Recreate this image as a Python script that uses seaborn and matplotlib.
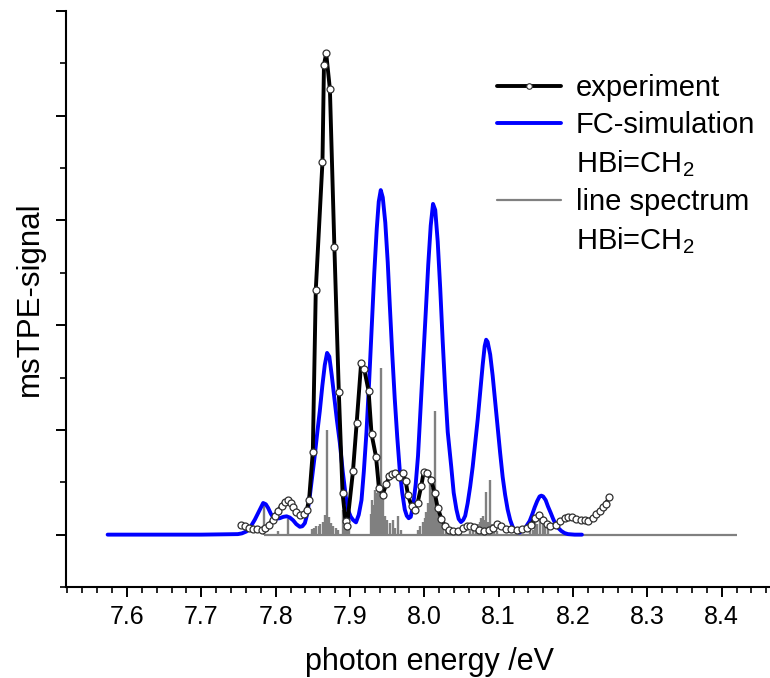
import numpy as np
import pandas as pd
import matplotlib
matplotlib.use("Agg")
import matplotlib.pyplot as plt
from matplotlib.lines import Line2D
from matplotlib.ticker import MultipleLocator, NullFormatter
import seaborn as sns

# ---------------- data ----------------
exp_energy = [7.754, 7.759, 7.764, 7.769, 7.775, 7.781, 7.786, 7.791, 7.796, 7.799,
              7.803, 7.808, 7.812, 7.816, 7.820, 7.824, 7.828, 7.833, 7.838, 7.842,
              7.845, 7.850, 7.854, 7.863, 7.865, 7.868, 7.873, 7.879, 7.885, 7.890,
              7.894, 7.896, 7.904, 7.909, 7.915, 7.919, 7.925, 7.929, 7.935, 7.939,
              7.944, 7.949, 7.953, 7.956, 7.961, 7.966, 7.971, 7.975, 7.978, 7.983,
              7.987, 7.991, 7.996, 7.999, 8.004, 8.009, 8.014, 8.018, 8.023, 8.028,
              8.033, 8.038, 8.045, 8.052, 8.057, 8.062, 8.067, 8.073, 8.080, 8.087,
              8.092, 8.098, 8.103, 8.110, 8.117, 8.124, 8.131, 8.138, 8.144, 8.149,
              8.154, 8.160, 8.165, 8.169, 8.177, 8.183, 8.189, 8.193, 8.198, 8.204,
              8.211, 8.216, 8.220, 8.227, 8.231, 8.236, 8.240, 8.244, 8.249]
exp_signal = [0.089, 0.079, 0.067, 0.057, 0.052, 0.048, 0.067, 0.095, 0.143, 0.181,
              0.229, 0.277, 0.315, 0.334, 0.305, 0.267, 0.219, 0.191, 0.200, 0.239,
              0.334, 0.792, 2.338, 3.562, 4.485, 4.596, 4.253, 2.751, 1.358, 0.398,
              0.127, 0.081, 0.604, 1.066, 1.638, 1.584, 1.374, 0.961, 0.745, 0.444,
              0.382, 0.487, 0.556, 0.582, 0.592, 0.553, 0.589, 0.509, 0.377, 0.270,
              0.234, 0.305, 0.468, 0.594, 0.587, 0.525, 0.398, 0.255, 0.153, 0.079,
              0.043, 0.038, 0.033, 0.062, 0.081, 0.081, 0.070, 0.048, 0.038, 0.048,
              0.064, 0.100, 0.081, 0.052, 0.052, 0.048, 0.057, 0.067, 0.095, 0.159,
              0.186, 0.143, 0.105, 0.086, 0.095, 0.129, 0.157, 0.165, 0.165, 0.148,
              0.143, 0.138, 0.134, 0.162, 0.200, 0.229, 0.262, 0.296, 0.356]

fc_energy = [7.574, 7.700, 7.7492, 7.7546, 7.7609, 7.7667, 7.7720, 7.7774, 7.7832, 7.7868,
             7.7899, 7.7935, 7.7966, 7.8003, 7.8056, 7.8104, 7.8147, 7.8191, 7.8235, 7.8278,
             7.8325, 7.8359, 7.8393, 7.8426, 7.8460, 7.8493, 7.8527, 7.8561, 7.8594, 7.8628,
             7.8661, 7.8692, 7.8722, 7.8755, 7.8789, 7.8823, 7.8863, 7.8903, 7.8944, 7.8977,
             7.9011, 7.9042, 7.9081, 7.9118, 7.9155, 7.9186, 7.9222, 7.9257, 7.9293, 7.9327,
             7.9360, 7.9387, 7.9414, 7.9441, 7.9475, 7.9508, 7.9535, 7.9569, 7.9602, 7.9636,
             7.9669, 7.9703, 7.9737, 7.9764, 7.9790, 7.9817, 7.9848, 7.9884, 7.9915, 7.9948,
             7.9983, 8.0019, 8.0053, 8.0086, 8.0117, 8.0147, 8.0180, 8.0214, 8.0247, 8.0281,
             8.0315, 8.0362, 8.0395, 8.0432, 8.0462, 8.0493, 8.0523, 8.0550, 8.0583, 8.0617,
             8.0651, 8.0684, 8.0718, 8.0751, 8.0785, 8.0812, 8.0832, 8.0852, 8.0886, 8.0919,
             8.0953, 8.0987, 8.1020, 8.1054, 8.1087, 8.1121, 8.1155, 8.1188, 8.1222, 8.1255,
             8.1282, 8.1323, 8.1372, 8.1417, 8.1450, 8.1484, 8.1518, 8.1551, 8.1574, 8.1598,
             8.1632, 8.1663, 8.1699, 8.1733, 8.1766, 8.1807, 8.1843, 8.1887, 8.1932, 8.2022,
             8.2120]
fc_signal = [0.0, 0.0, 0.005, 0.012, 0.031, 0.08, 0.143, 0.22, 0.302, 0.29,
             0.255, 0.20, 0.165, 0.152, 0.157, 0.17, 0.175, 0.163, 0.137, 0.10,
             0.075, 0.08, 0.11, 0.20, 0.37, 0.56, 0.76, 0.98, 1.18, 1.42,
             1.62, 1.735, 1.70, 1.52, 1.31, 1.10, 0.88, 0.60, 0.36, 0.23,
             0.17, 0.14, 0.117, 0.19, 0.33, 0.60, 0.98, 1.45, 2.00, 2.50,
             2.92, 3.18, 3.29, 3.22, 2.98, 2.60, 2.20, 1.72, 1.30, 0.93,
             0.62, 0.40, 0.24, 0.18, 0.157, 0.17, 0.27, 0.48, 0.75, 1.18,
             1.62, 2.12, 2.58, 2.95, 3.158, 3.10, 2.80, 2.35, 1.85, 1.38,
             0.98, 0.65, 0.40, 0.24, 0.15, 0.12, 0.14, 0.18, 0.30, 0.46,
             0.65, 0.87, 1.10, 1.36, 1.62, 1.80, 1.861, 1.84, 1.72, 1.52,
             1.27, 1.02, 0.78, 0.55, 0.38, 0.24, 0.14, 0.075, 0.04, 0.025,
             0.02, 0.04, 0.08, 0.13, 0.19, 0.26, 0.32, 0.365, 0.372, 0.365,
             0.33, 0.27, 0.21, 0.15, 0.10, 0.06, 0.035, 0.015, 0.005, 0.0,
             0.0]

stick_energy = [7.7845, 7.8034, 7.8173, 7.8483, 7.8513, 7.8540, 7.8577, 7.8601, 7.8638, 7.8661,
                7.8692, 7.8719, 7.8751, 7.8776, 7.8809, 7.8840, 7.8907, 7.8937, 7.8957, 7.8984,
                7.9280, 7.9302, 7.9320, 7.9337, 7.9356, 7.9378, 7.9394, 7.9418, 7.9441, 7.9468,
                7.9499, 7.9535, 7.9579, 7.9609, 7.9643, 7.9683, 7.9911, 7.9945, 7.9979, 8.0005,
                8.0026, 8.0050, 8.0073, 8.0093, 8.0113, 8.0149, 8.0173, 8.0194, 8.0220, 8.0247,
                8.0288, 8.0610, 8.0651, 8.0691, 8.0725, 8.0745, 8.0768, 8.0789, 8.0812, 8.0828,
                8.0852, 8.0889, 8.0913, 8.0940, 8.0973, 8.1417, 8.1457, 8.1484, 8.1515, 8.1551,
                8.1596, 8.1628, 8.1659]
stick_height = [0.30, 0.03, 0.15, 0.05, 0.06, 0.08, 0.08, 0.10, 0.12, 0.19,
                1.00, 0.17, 0.11, 0.08, 0.06, 0.04, 0.24, 0.18, 0.10, 0.05,
                0.20, 0.33, 0.28, 0.43, 0.40, 0.54, 0.43, 1.59, 0.35, 0.18,
                0.14, 0.11, 0.14, 0.06, 0.175, 0.04, 0.04, 0.08, 0.12, 0.16,
                0.22, 0.30, 0.60, 0.45, 0.38, 1.18, 0.30, 0.20, 0.12, 0.06,
                0.04, 0.03, 0.05, 0.07, 0.10, 0.12, 0.16, 0.18, 0.14, 0.41,
                0.12, 0.525, 0.10, 0.05, 0.03, 0.06, 0.04, 0.14, 0.10, 0.16,
                0.18, 0.14, 0.05]
stick_range = [7.7845, 8.421]

x_major_ticks = [7.6, 7.7, 7.8, 7.9, 8.0, 8.1, 8.2, 8.3, 8.4]
x_label = "photon energy /eV"
y_label = "msTPE-signal"
legend_labels = ["experiment", "FC-simulation", "HBi=CH$_2$", "line spectrum", "HBi=CH$_2$"]

# ---------------- style ----------------
sns.set_style("ticks")
plt.rcParams["font.family"] = ["Liberation Sans", "DejaVu Sans"]
plt.rcParams["mathtext.fontset"] = "custom"
plt.rcParams["mathtext.rm"] = "Liberation Sans"
plt.rcParams["mathtext.default"] = "regular"
plt.rcParams["text.color"] = "black"
plt.rcParams["axes.labelcolor"] = "black"
plt.rcParams["xtick.color"] = "black"
plt.rcParams["ytick.color"] = "black"

fig = plt.figure(figsize=(7.70, 6.78), dpi=100)
ax = fig.add_axes([66 / 770, 1 - 587 / 678, 1 - 66 / 770, 576 / 678])

exp_df = pd.DataFrame({"energy": exp_energy, "signal": exp_signal})
fc_df = pd.DataFrame({"energy": fc_energy, "signal": fc_signal})

# line spectrum
ax.hlines(0, stick_range[0], stick_range[1], color="#808080", lw=1.6, zorder=1)
ax.vlines(stick_energy, 0, stick_height, color="#808080", lw=1.7, zorder=1)

# FC simulation
sns.lineplot(data=fc_df, x="energy", y="signal", ax=ax, color="#0000ff",
             linewidth=2.8, sort=False, estimator=None, zorder=2)

# experiment
sns.lineplot(data=exp_df, x="energy", y="signal", ax=ax, color="black",
             linewidth=2.8, sort=False, estimator=None, marker="o",
             markersize=5.0, markerfacecolor="white", markeredgecolor="#303030",
             markeredgewidth=0.9, zorder=3)

ax.set_xlim(7.518, 8.465)
ax.set_ylim(-0.5, 5.0)
ax.set_xticks(x_major_ticks)
ax.xaxis.set_minor_locator(MultipleLocator(0.02))
ax.yaxis.set_major_locator(MultipleLocator(1.0))
ax.yaxis.set_minor_locator(MultipleLocator(0.5))
ax.yaxis.set_major_formatter(NullFormatter())
ax.set_xticklabels([f"{t:.1f}" for t in x_major_ticks], fontsize=18)

for s in ["top", "right"]:
    ax.spines[s].set_visible(False)
for s in ["left", "bottom"]:
    ax.spines[s].set_linewidth(1.5)
    ax.spines[s].set_color("black")
ax.tick_params(which="major", direction="out", length=7, width=1.4, color="black", pad=6)
ax.tick_params(which="minor", direction="out", length=4, width=1.2, color="black")

ax.set_xlabel(x_label, fontsize=22, labelpad=13, x=0.517)
ax.set_ylabel(y_label, fontsize=22.5, labelpad=2)

handles = [
    Line2D([], [], color="black", lw=2.8, marker="o", markersize=4,
           markerfacecolor="white", markeredgecolor="#303030", markeredgewidth=0.8),
    Line2D([], [], color="#0000ff", lw=2.8),
    Line2D([], [], color="none", lw=0),
    Line2D([], [], color="#808080", lw=1.6),
    Line2D([], [], color="none", lw=0),
]
leg = fig.legend(handles, legend_labels, loc="upper left",
                 bbox_to_anchor=(497 / 770, 1 - 74 / 678), frameon=False,
                 fontsize=21, handlelength=2.2, handletextpad=0.5,
                 labelspacing=0.31, borderpad=0, borderaxespad=0)

fig.savefig("out.png", dpi=100)
